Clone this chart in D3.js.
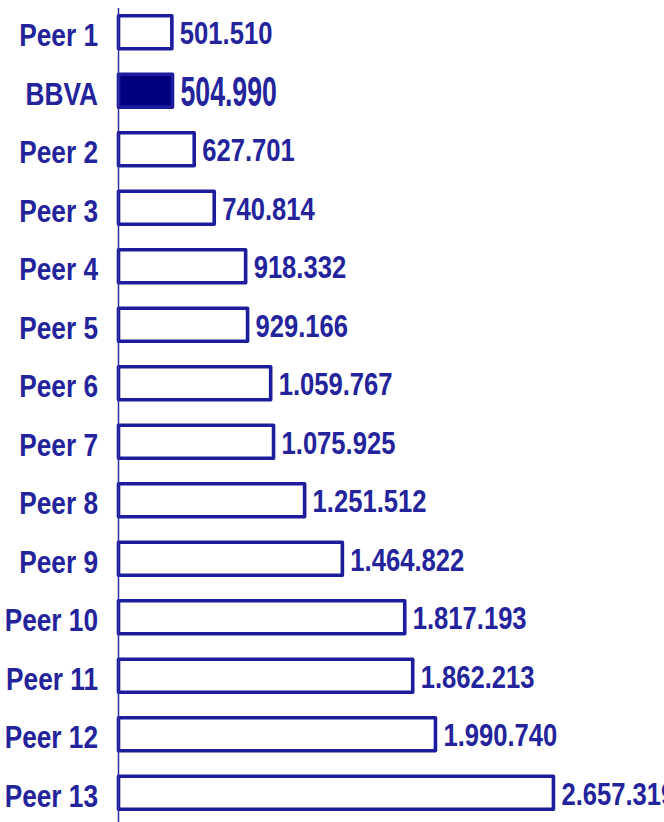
<!DOCTYPE html>
<html>
<head>
<meta charset="utf-8">
<script src="https://cdn.jsdelivr.net/npm/d3@7"></script>
<style>
  html, body { margin: 0; padding: 0; background: #ffffff; }
  svg { display: block; }
  text { font-family: "Liberation Sans", Arial, sans-serif; font-weight: bold; }
</style>
</head>
<body>
<svg id="chart" width="664" height="822"></svg>
<script>
const categories = ["Peer 1", "BBVA", "Peer 2", "Peer 3", "Peer 4", "Peer 5", "Peer 6", "Peer 7", "Peer 8", "Peer 9", "Peer 10", "Peer 11", "Peer 12", "Peer 13"];
const values = [501510, 504990, 627701, 740814, 918332, 929166, 1059767, 1075925, 1251512, 1464822, 1817193, 1862213, 1990740, 2657319];
const valueLabels = ["501.510", "504.990", "627.701", "740.814", "918.332", "929.166", "1.059.767", "1.075.925", "1.251.512", "1.464.822", "1.817.193", "1.862.213", "1.990.740", "2.657.319"];
const highlight = "BBVA";

const data = categories.map((c, i) => ({ cat: c, value: values[i], label: valueLabels[i] }));

const svg = d3.select("#chart");
const stroke = "#1c1c9c";
const textColor = "#23239b";

const x = d3.scaleLinear().domain([200000, 3000000]).range([118.5, 614.1]);
const y = d3.scaleBand().domain(categories).range([3, 822]).paddingInner(0.436).paddingOuter(0.218);
const cy = d => y(d.cat) + y.bandwidth() / 2;

// bars
svg.append("g").selectAll("rect").data(data).join("rect")
  .attr("x", x(200000))
  .attr("y", d => y(d.cat))
  .attr("width", d => x(d.value) - x(200000))
  .attr("height", y.bandwidth())
  .attr("fill", d => d.cat === highlight ? "#000080" : "#ffffff")
  .attr("stroke", stroke)
  .attr("stroke-width", 3.6)
  .attr("stroke-linejoin", "round");

// axis line
svg.append("line")
  .attr("x1", x(200000)).attr("x2", x(200000))
  .attr("y1", 8).attr("y2", 822)
  .attr("stroke", "#2e2ea0").attr("stroke-width", 1.5);

// category labels (condensed bold)
svg.append("g").selectAll("text").data(data).join("text")
  .attr("transform", d => `translate(98,${cy(d) + 3}) scale(0.82,1)`)
  .attr("text-anchor", "end")
  .attr("dominant-baseline", "central")
  .attr("font-size", 32)
  .attr("fill", textColor)
  .text(d => d.cat);

// value labels (condensed bold)
svg.append("g").selectAll("text").data(data).join("text")
  .attr("transform", d => d.cat === highlight
    ? `translate(${x(d.value) + 8},${cy(d) + 1}) scale(0.62,1)`
    : `translate(${x(d.value) + 8},${cy(d) + 1}) scale(0.80,1)`)
  .attr("dominant-baseline", "central")
  .attr("font-size", d => d.cat === highlight ? 43 : 32)
  .attr("fill", textColor)
  .text(d => d.label);
</script>
</body>
</html>
